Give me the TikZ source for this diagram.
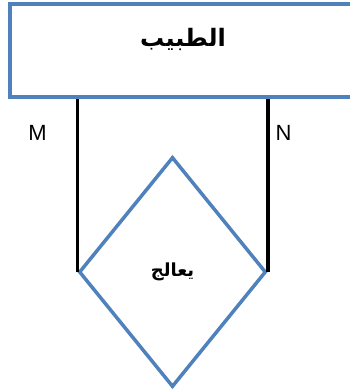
\documentclass[tikz,border=0pt]{standalone}
\usepackage{fontspec}
\setmainfont{Liberation Sans}
\newfontfamily\arabicfont[Script=Arabic]{DejaVu Sans}
\TeXXeTstate=1
\usetikzlibrary{shapes.geometric}
\definecolor{entblue}{HTML}{4F81BD}

\begin{document}
\begin{tikzpicture}
[
	x=1pt,y=1pt,
	entity/.style={rectangle,draw=entblue,line width=3.5pt,minimum width=350pt,minimum height=93pt,inner sep=0pt},
	relation/.style={diamond,draw=entblue,line width=3.5pt,minimum width=187pt,minimum height=230pt,inner sep=0pt},
	link/.style={line width=3.5pt,black},
	card/.style={font=\fontsize{22}{26}\selectfont}
]

	\useasboundingbox (0,0) rectangle (350,391);
	\clip (0,0) rectangle (350,391);

	% entity
	\node[entity] (doc) at (185,340.5) {};
	\node[font=\arabicfont\bfseries\fontsize{24}{28}\selectfont] (doctitle) at (183,352) {\beginR الطبيب\endR};

	% relationship
	\node[relation] (treats) at (172.5,119) {};
	\node[font=\arabicfont\bfseries\fontsize{18}{21}\selectfont] (treatstitle) at (treats.center) {\beginR يعالج\endR};

	% links
	\draw[link] (treats.west) -- (treats.west |- doc.south);
	\draw[link] (treats.east) -- (treats.east |- doc.south);

	% cardinalities
	\node[card] (m) at (37.5,258) {M};
	\node[card] (n) at (283.5,258) {N};

\end{tikzpicture}
\end{document}
